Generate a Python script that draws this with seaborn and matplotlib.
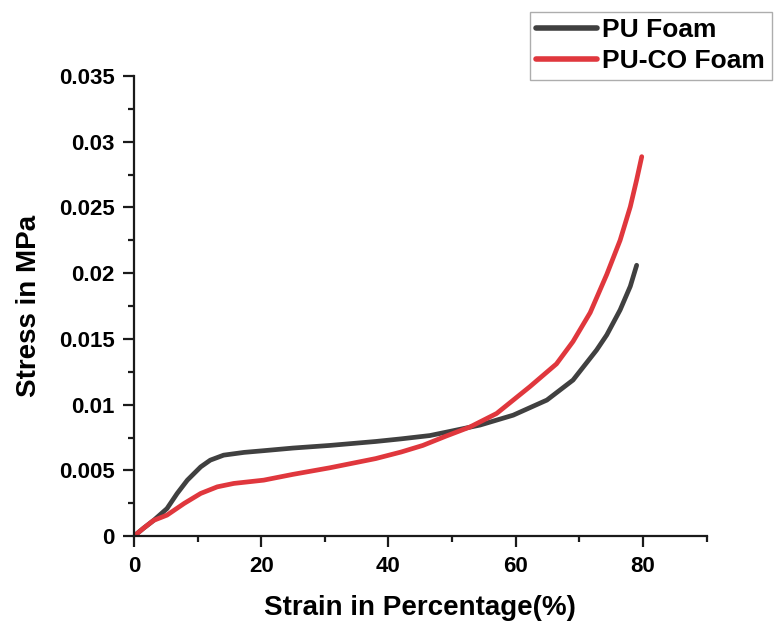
import numpy as np
import pandas as pd
import matplotlib
matplotlib.use("Agg")
import matplotlib.pyplot as plt
import seaborn as sns
from matplotlib.ticker import MultipleLocator, FixedLocator

# Compression stress-strain readings (strain in %, stress in MPa)
pu_strain = [0, 1.5, 3.1, 5.2, 6.8, 8.4, 10.5, 12.0, 14.1, 17.3, 20.4, 25, 30.8, 38,
             42, 46.5, 50, 54.4, 59.6, 64.9, 69.0, 72.7, 74.3, 76.4, 78.0, 79.0]
pu_stress = [0, 0.0006, 0.0012, 0.0021, 0.00325, 0.00426, 0.00527, 0.00578, 0.00616,
             0.00637, 0.0065, 0.0067, 0.0069, 0.0072, 0.0074, 0.00765, 0.0080, 0.00845,
             0.0092, 0.01035, 0.01187, 0.01415, 0.01530, 0.0172, 0.0190, 0.0206]

puco_strain = [0, 1.5, 3.1, 5.2, 7.9, 10.5, 13.1, 15.7, 20.4, 25, 30.8, 38, 42, 45.4,
               49, 52.8, 57.0, 62.2, 66.4, 69.0, 71.7, 74.3, 76.4, 78.0, 79.0, 79.8]
puco_stress = [0, 0.0006, 0.0012, 0.0016, 0.00249, 0.00325, 0.00375, 0.00401, 0.00426,
               0.0047, 0.0052, 0.0059, 0.0064, 0.0069, 0.0076, 0.0083, 0.00933, 0.01136,
               0.0131, 0.0148, 0.0170, 0.0199, 0.0225, 0.02505, 0.0271, 0.02886]

series_names = ["PU Foam", "PU-CO Foam"]
series_colors = ["#404040", "#e0373d"]

x_ticks = [0, 20, 40, 60, 80]
y_ticks = [0, 0.005, 0.01, 0.015, 0.02, 0.025, 0.03, 0.035]
y_tick_labels = ["0", "0.005", "0.01", "0.015", "0.02", "0.025", "0.03", "0.035"]

df = pd.concat([
    pd.DataFrame({"strain": pu_strain, "stress": pu_stress, "sample": series_names[0]}),
    pd.DataFrame({"strain": puco_strain, "stress": puco_stress, "sample": series_names[1]}),
])

sns.set_theme(style="ticks")
plt.rcParams["font.family"] = ["Liberation Sans", "DejaVu Sans"]
plt.rcParams["font.weight"] = "bold"
plt.rcParams["text.color"] = "black"
plt.rcParams["axes.labelcolor"] = "black"
plt.rcParams["xtick.color"] = "black"
plt.rcParams["ytick.color"] = "black"

fig = plt.figure(figsize=(7.74, 6.22), dpi=100)
ax = fig.add_axes([0.173, 0.138, 0.740, 0.740])

sns.lineplot(data=df, x="strain", y="stress", hue="sample", palette=series_colors,
             hue_order=series_names, linewidth=3.4, ax=ax, sort=False,
             estimator=None, legend=False)
for ln in ax.get_lines():
    ln.set_solid_capstyle("round")
    ln.set_solid_joinstyle("round")

ax.set_xlim(0, 90)
ax.set_ylim(0, 0.035)
ax.xaxis.set_major_locator(FixedLocator(x_ticks))
ax.xaxis.set_minor_locator(MultipleLocator(10))
ax.yaxis.set_major_locator(FixedLocator(y_ticks))
ax.yaxis.set_minor_locator(MultipleLocator(0.0025))
ax.set_yticklabels(y_tick_labels)
ax.set_xticklabels([str(t) for t in x_ticks])

for s in ["top", "right"]:
    ax.spines[s].set_visible(False)
for s in ["left", "bottom"]:
    ax.spines[s].set_linewidth(1.6)
    ax.spines[s].set_color("#1a1a1a")

ax.tick_params(which="major", direction="out", length=8, width=1.6, color="#1a1a1a",
               labelsize=16, pad=6, labelcolor="black")
ax.tick_params(which="minor", direction="out", length=4, width=1.6, color="#1a1a1a")
for lab in ax.get_xticklabels() + ax.get_yticklabels():
    lab.set_fontweight("bold")

ax.set_xlabel("Strain in Percentage(%)", fontsize=20, fontweight="bold", labelpad=13,
              color="black")
ax.set_ylabel("Stress in MPa", fontsize=20, fontweight="bold", labelpad=12,
              color="black")

handles = [plt.Line2D([], [], color=c, linewidth=4, solid_capstyle="round")
           for c in series_colors]
leg = fig.legend(handles, series_names, loc="upper right", bbox_to_anchor=(0.997, 0.981),
                 borderaxespad=0, frameon=True, fancybox=False, edgecolor="#999999",
                 handlelength=2.3, handletextpad=0.2, borderpad=0.25, labelspacing=0.25,
                 prop={"size": 19, "weight": "bold"})
leg.get_frame().set_linewidth(1.0)
for t in leg.get_texts():
    t.set_color("black")

fig.savefig("out.png", dpi=100, facecolor="white")
